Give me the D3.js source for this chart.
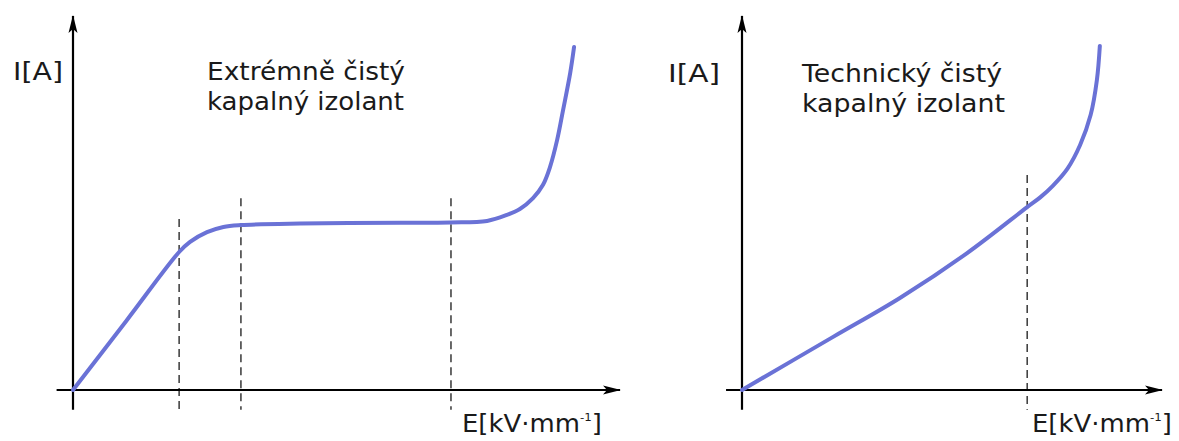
<!DOCTYPE html>
<html>
<head>
<meta charset="utf-8">
<script src="https://cdn.jsdelivr.net/npm/d3@7"></script>
<style>
body { margin: 0; background: #fff; }
text { font-family: "DejaVu Sans", Verdana, sans-serif; fill: #1a1a1a; }
</style>
</head>
<body>
<div id="chart"></div>
<script>
// two sketches of current vs field strength in liquid insulators

// left panel - extremely pure liquid (E, I in arbitrary units 0..10)
var pureE = [0, 0.97, 1.94, 2.14, 2.45, 2.75, 3.07, 4.15, 6, 6.9, 7.57, 7.93, 8.17, 8.41, 8.59, 8.72, 8.85, 8.96, 9.09, 9.16];
var pureI = [0, 1.84, 3.69, 3.96, 4.22, 4.36, 4.41, 4.45, 4.47, 4.48, 4.52, 4.68, 4.84, 5.13, 5.48, 5.96, 6.68, 7.49, 8.48, 9.17];
var pureDashE = [1.94, 3.07, 6.91];
var pureDashTop = [4.57, 5.13, 5.13];

// right panel - technically pure liquid
var techE = [0, 2.17, 3.76, 5.36, 6.79, 7.1, 7.4, 7.75, 8.05, 8.3, 8.45, 8.52];
var techI = [0, 1.42, 2.46, 3.66, 4.89, 5.15, 5.46, 5.92, 6.55, 7.35, 8.29, 9.2];
var techDashE = [6.79];
var techDashTop = [5.75];

var titles = [["Extrémně čistý", "kapalný izolant"], ["Technický čistý", "kapalný izolant"]];
var yLabel = "I[A]";
var xLabel = "E[kV·mm";

var width = 1179, height = 441;

var svg = d3.select("#chart").append("svg")
    .attr("width", width)
    .attr("height", height);

// arrow head for the axes
svg.append("defs").append("marker")
    .attr("id", "arrow")
    .attr("viewBox", "-20 -6 22 12")
    .attr("markerUnits", "userSpaceOnUse")
    .attr("markerWidth", 22)
    .attr("markerHeight", 12)
    .attr("refX", 0)
    .attr("refY", 0)
    .attr("orient", "auto")
    .append("path")
    .attr("d", "M1,0 L-17,-4.5 L-13,0 L-17,4.5 Z")
    .attr("fill", "#000");

var y = d3.scaleLinear().domain([0, 10]).range([390, 16]);

var panels = [
    { x: d3.scaleLinear().domain([0, 10]).range([73, 620]), xStart: -0.3, E: pureE, I: pureI,
      dashE: pureDashE, dashTop: pureDashTop, title: titles[0],
      titleX: 207, titleY: [80, 110], titleLen: [198, 197],
      yLab: [13, 80, 50], xLab: [462, 432] },
    { x: d3.scaleLinear().domain([0, 10]).range([742, 1162]), xStart: -0.38, E: techE, I: techI,
      dashE: techDashE, dashTop: techDashTop, title: titles[1],
      titleX: 802, titleY: [82, 112], titleLen: [200, 203],
      yLab: [668, 82, 52], xLab: [1032, 432] }
];

panels.forEach(function(p) {
    var g = svg.append("g");
    var x = p.x;

    // dashed guide lines
    g.selectAll(".guide")
        .data(p.dashE)
        .enter().append("line")
        .attr("class", "guide")
        .attr("x1", function(d) { return x(d); })
        .attr("x2", function(d) { return x(d); })
        .attr("y1", function(d, i) { return y(p.dashTop[i]); })
        .attr("y2", y(-0.53))
        .attr("stroke", "#2a2a2a")
        .attr("stroke-width", 1.4)
        .attr("stroke-dasharray", "8,5");

    // axes
    g.append("line")
        .attr("x1", x(p.xStart)).attr("x2", x(10))
        .attr("y1", y(0)).attr("y2", y(0))
        .attr("stroke", "#000").attr("stroke-width", 2.2)
        .attr("marker-end", "url(#arrow)");
    g.append("line")
        .attr("x1", x(0)).attr("x2", x(0))
        .attr("y1", y(-0.53)).attr("y2", y(10))
        .attr("stroke", "#000").attr("stroke-width", 2.2)
        .attr("marker-end", "url(#arrow)");

    // the curve
    var pts = p.E.map(function(e, i) { return [e, p.I[i]]; });
    var line = d3.line()
        .x(function(d) { return x(d[0]); })
        .y(function(d) { return y(d[1]); })
        .curve(d3.curveCatmullRom.alpha(0.5));
    g.append("path")
        .datum(pts)
        .attr("d", line)
        .attr("fill", "none")
        .attr("stroke", "#6a72d6")
        .attr("stroke-width", 4)
        .attr("stroke-linecap", "round");

    // labels
    p.title.forEach(function(t, i) {
        g.append("text")
            .attr("x", p.titleX).attr("y", p.titleY[i])
            .attr("font-size", 24)
            .attr("textLength", p.titleLen[i])
            .attr("lengthAdjust", "spacingAndGlyphs")
            .text(t);
    });
    g.append("text")
        .attr("x", p.yLab[0]).attr("y", p.yLab[1])
        .attr("font-size", 24)
        .attr("textLength", p.yLab[2])
        .attr("lengthAdjust", "spacingAndGlyphs")
        .text(yLabel);

    // x label, stretched a bit like the others
    var xl = g.append("text")
        .attr("transform", "translate(" + p.xLab[0] + "," + p.xLab[1] + ") scale(1.08,1)")
        .attr("font-size", 24);
    xl.append("tspan").text(xLabel);
    xl.append("tspan").attr("font-size", 11).attr("dy", -11).text("-1");
    xl.append("tspan").attr("dy", 11).text("]");
});
</script>
</body>
</html>
